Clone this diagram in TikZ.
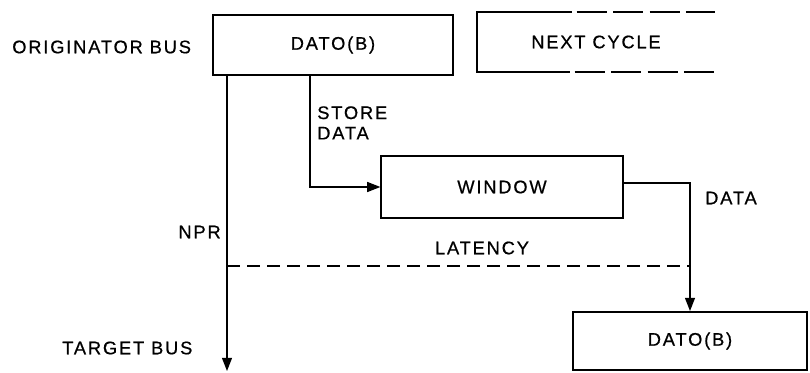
\documentclass[tikz,border=0pt]{standalone}
\usepackage{fontspec}
\setmainfont{Liberation Sans}[LetterSpace=10, FakeBold=0.6]
\usetikzlibrary{arrows.meta}

\begin{document}
\begin{tikzpicture}[x=0.025cm, y=-0.025cm, font=\fontsize{13}{14.5}\selectfont,
  box/.style={draw, line width=1.4pt, inner sep=0pt},
  lbl/.style={inner sep=0pt},
  wire/.style={line width=0.9pt},
  tip/.style={-{Triangle[length=3.3mm, width=2.5mm]}}]

  \useasboundingbox (0,0) rectangle (810,373);

  % bus labels
  \node[lbl, anchor=west] (orig) at (12,47) {ORIGINATOR BUS};
  \node[lbl, anchor=west] (target) at (62,348) {TARGET BUS};

  % cycles
  \node[box, minimum width=6cm, minimum height=1.5cm] (dato1) at (333,45) {DATO(B)};
  \node[minimum width=5.95cm, minimum height=1.5cm, inner sep=0pt] (next) at (596,42) {NEXT CYCLE};
  \draw[line width=1.4pt] ([xshift=2.38cm]next.north west) -- (next.north west) -- (next.south west) -- ([xshift=2.33cm]next.south west);
  \draw[line width=1.4pt, dash pattern=on 0.75cm off 0.16cm] ([xshift=2.5cm]next.north west) -- (next.north east);
  \draw[line width=1.4pt, dash pattern=on 0.75cm off 0.16cm] ([xshift=2.45cm]next.south west) -- (next.south east);
  \node[box, minimum width=6.03cm, minimum height=1.55cm] (window) at (502,187) {WINDOW};
  \node[box, minimum width=5.85cm, minimum height=1.45cm] (dato2) at (690,341) {DATO(B)};

  % connectors
  \coordinate (tgt) at (227,371);
  \coordinate (lat) at (227,266);
  \draw[wire, tip] (dato1.south west -| tgt) -- (tgt);
  \draw[wire, tip] ([xshift=2.45cm]dato1.south west) |- (window.west);
  \draw[wire, tip] ([yshift=0.1cm]window.east) -| (dato2.north);
  \draw[wire, dash pattern=on 0.33cm off 0.17cm] (lat) -- (lat -| dato2.north);

  \node[lbl, anchor=east] (npr) at (221,232) {NPR};
  \node[lbl, anchor=north west, align=left] (store) at (317,106) {STORE\\DATA};
  \node[lbl] (latency) at (482,248) {LATENCY};
  \node[lbl] (data) at (731,198) {DATA};
\end{tikzpicture}
\end{document}
